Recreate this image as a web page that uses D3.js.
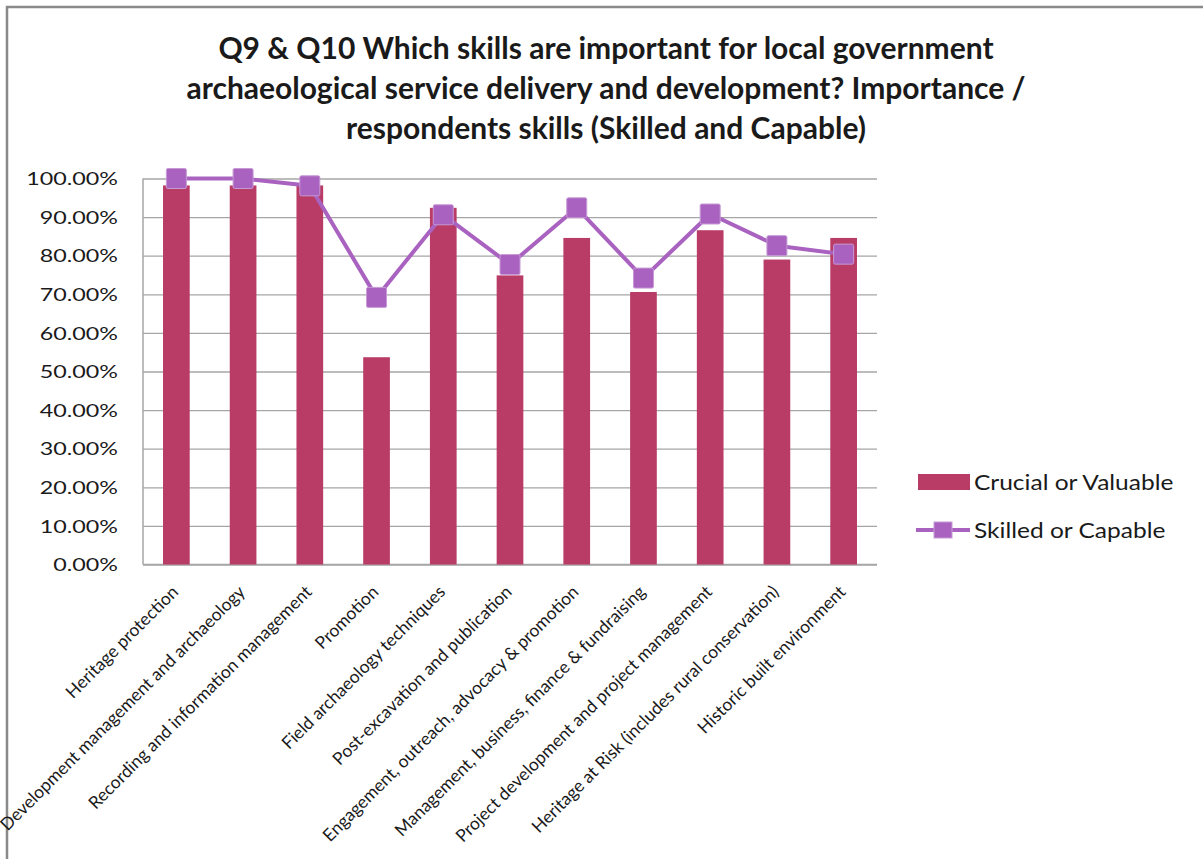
<!DOCTYPE html>
<html>
<head>
<meta charset="utf-8">
<script src="https://cdn.jsdelivr.net/npm/d3@7"></script>
<style>
  html, body { margin: 0; padding: 0; background: #fff; }
  svg { display: block; }
  text { font-family: "Lato", "Open Sans", sans-serif; fill: #1a1a1a; }
</style>
</head>
<body>
<svg id="chart" width="1203" height="859"></svg>
<script>
// Skill areas surveyed
const categories = [
  "Heritage protection",
  "Development management and archaeology",
  "Recording and information management",
  "Promotion",
  "Field archaeology techniques",
  "Post-excavation and publication",
  "Engagement, outreach, advocacy & promotion",
  "Management, business, finance & fundraising",
  "Project development and project management",
  "Heritage at Risk (includes rural conservation)",
  "Historic built environment"
];

// Share rating each skill as crucial or valuable (%)
const crucialValues = [98.2, 98.2, 98.2, 53.7, 92.4, 74.9, 84.6, 70.6, 86.6, 79.0, 84.6];

// Share of respondents skilled or capable in each area (%)
const skilledValues = [100, 100, 98.1, 69.2, 90.6, 77.7, 92.4, 74.2, 90.8, 82.6, 80.4];

const yTicks = [0, 10, 20, 30, 40, 50, 60, 70, 80, 90, 100];

const titleLines = [
  "Q9 & Q10 Which skills are important for local government",
  "archaeological service delivery and development? Importance /",
  "respondents skills (Skilled and Capable)"
];

const seriesNames = ["Crucial or Valuable", "Skilled or Capable"];

const barColor = "#b93c66";
const lineColor = "#a962bf";
const gridColor = "#a6a6a6";

const svg = d3.select("#chart");

// outer chart frame
svg.append("rect")
  .attr("x", 7).attr("y", 7)
  .attr("width", 1300).attr("height", 1000)
  .attr("fill", "none")
  .attr("stroke", "#8a8a8a")
  .attr("stroke-width", 2.5);

const plot = { left: 143, right: 877, top: 178.5, bottom: 564.5 };

const x = d3.scaleBand()
  .domain(categories)
  .range([plot.left, plot.right])
  .padding(0);

const y = d3.scaleLinear()
  .domain([0, 100])
  .range([plot.bottom, plot.top]);

// title
svg.append("g")
  .selectAll("text")
  .data(titleLines)
  .join("text")
  .attr("x", 606)
  .attr("y", (d, i) => 59 + i * 40)
  .attr("text-anchor", "middle")
  .style("font-size", "30px")
  .style("font-weight", "bold")
  .text(d => d);

// y axis with gridlines
const yAxis = svg.append("g")
  .attr("transform", `translate(${plot.left},0)`)
  .call(d3.axisLeft(y)
    .tickValues(yTicks)
    .tickSize(-(plot.right - plot.left))
    .tickFormat(d => d.toFixed(2) + "%"));

yAxis.select(".domain").remove();
yAxis.selectAll(".tick line")
  .attr("stroke", gridColor)
  .attr("stroke-width", 1.3);
yAxis.selectAll(".tick text")
  .attr("x", 0)
  .attr("dy", "0.36em")
  .attr("text-anchor", "end")
  .attr("transform", "translate(-25,0) scale(1.37,1)")
  .style("font-size", "17px")
  .style("fill", "#1a1a1a");

// left axis line and baseline
svg.append("line")
  .attr("x1", plot.left).attr("x2", plot.left)
  .attr("y1", y(100)).attr("y2", y(0))
  .attr("stroke", gridColor).attr("stroke-width", 1.5);
svg.append("line")
  .attr("x1", plot.left).attr("x2", plot.right)
  .attr("y1", y(0)).attr("y2", y(0))
  .attr("stroke", gridColor).attr("stroke-width", 1.5);

// bars
const barW = x.bandwidth() * 0.4;
svg.append("g")
  .selectAll("rect")
  .data(categories)
  .join("rect")
  .attr("x", d => x(d) + (x.bandwidth() - barW) / 2)
  .attr("y", (d, i) => y(crucialValues[i]))
  .attr("width", barW)
  .attr("height", (d, i) => y(0) - y(crucialValues[i]))
  .attr("fill", barColor);

// line series
const cx = d => x(d) + x.bandwidth() / 2;
const line = d3.line()
  .x(d => cx(d.cat))
  .y(d => y(d.v));
const linePts = categories.map((c, i) => ({ cat: c, v: skilledValues[i] }));

svg.append("path")
  .datum(linePts)
  .attr("d", line)
  .attr("fill", "none")
  .attr("stroke", lineColor)
  .attr("stroke-width", 4)
  .attr("stroke-linejoin", "round");

const mk = 20;
svg.append("g")
  .selectAll("rect")
  .data(linePts)
  .join("rect")
  .attr("x", d => cx(d.cat) - mk / 2)
  .attr("y", d => y(d.v) - mk / 2)
  .attr("width", mk)
  .attr("height", mk)
  .attr("rx", 1.5)
  .attr("fill", lineColor)
  .attr("stroke", "#c79ad6")
  .attr("stroke-width", 1);

// category labels
svg.append("g")
  .selectAll("text")
  .data(categories)
  .join("text")
  .attr("transform", d => `translate(${cx(d) + 3},${593}) rotate(-45)`)
  .attr("text-anchor", "end")
  .style("font-size", "17.5px")
  .text(d => d);

// legend
const lg = svg.append("g");
lg.append("rect")
  .attr("x", 918).attr("y", 474)
  .attr("width", 52).attr("height", 16)
  .attr("fill", barColor);
lg.append("line")
  .attr("x1", 916).attr("x2", 970)
  .attr("y1", 530).attr("y2", 530)
  .attr("stroke", lineColor).attr("stroke-width", 4);
lg.append("rect")
  .attr("x", 934).attr("y", 522)
  .attr("width", 18).attr("height", 16)
  .attr("fill", lineColor)
  .attr("stroke", "#c79ad6").attr("stroke-width", 1);
lg.selectAll("text")
  .data(seriesNames)
  .join("text")
  .attr("x", 0)
  .attr("dy", "0.36em")
  .attr("transform", (d, i) => `translate(974,${482 + i * 48}) scale(1.14,1)`)
  .style("font-size", "21.5px")
  .text(d => d);
</script>
</body>
</html>
